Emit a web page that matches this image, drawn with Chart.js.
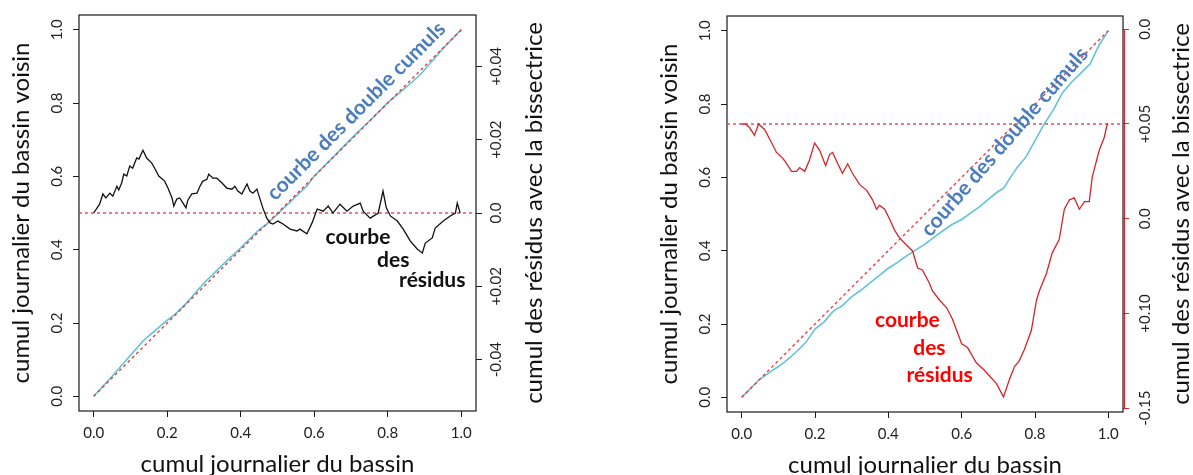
<!DOCTYPE html>
<html>
<head>
<meta charset="utf-8">
<script src="https://cdn.jsdelivr.net/npm/chart.js@4.4.1/dist/chart.umd.min.js"></script>
<style>
  html, body { margin: 0; padding: 0; background: #fff; }
  #wrap { position: relative; width: 1193px; height: 475px; }
  canvas { position: absolute; top: 0; }
  #c1 { left: 0; }
  #c2 { left: 597px; }
</style>
</head>
<body>
<div id="wrap">
  <canvas id="c1" width="597" height="475"></canvas>
  <canvas id="c2" width="596" height="475"></canvas>
</div>
<script>
// axis ticks
const xTicks = [0, 0.2, 0.4, 0.6, 0.8, 1.0];
const yTicks = [0, 0.2, 0.4, 0.6, 0.8, 1.0];
const leftResTicks = [-0.04, -0.02, 0, 0.02, 0.04];
const leftResLabels = ['-0.04', '+0.02', '0.0', '+0.02', '+0.04'];
const rightResTicks = [-0.15, -0.10, -0.05, 0, 0.05];
const rightResLabels = ['-0.15', '+0.10', '0.0', '+0.05', '0.0'];

const xTitle = 'cumul journalier du bassin';
const yTitle = 'cumul journalier du bassin voisin';
const y2Title = 'cumul des résidus avec la bissectrice';

// bisector and zero line
const bisX = [0, 1];
const bisY = [0, 1];
const zeroX = [-0.04, 1.04];
const zeroY = [0, 0];

// left panel: double cumulative curve
const cumLeftX = [0, 0.05, 0.1, 0.134, 0.15, 0.2, 0.22, 0.25, 0.3, 0.35, 0.4, 0.45, 0.47, 0.5, 0.55, 0.58, 0.6, 0.65, 0.7, 0.75, 0.8, 0.85, 0.89, 0.95, 1.0];
const cumLeftY = [0, 0.055, 0.112, 0.151, 0.165, 0.208, 0.222, 0.252, 0.309, 0.358, 0.405, 0.455, 0.469, 0.497, 0.545, 0.574, 0.601, 0.651, 0.702, 0.751, 0.801, 0.843, 0.879, 0.948, 1.0];

// left panel: cumulative residuals
const resLeftX = [0.000, 0.016, 0.025, 0.033, 0.044, 0.052, 0.063, 0.068, 0.076, 0.082, 0.090, 0.098, 0.106, 0.117, 0.123, 0.134, 0.144, 0.158, 0.166, 0.177, 0.193, 0.202, 0.213, 0.218, 0.226, 0.234, 0.243, 0.251, 0.256, 0.267, 0.281, 0.289, 0.297, 0.308, 0.313, 0.324, 0.335, 0.349, 0.362, 0.376, 0.384, 0.392, 0.403, 0.417, 0.425, 0.433, 0.444, 0.450, 0.460, 0.471, 0.480, 0.488, 0.501, 0.515, 0.534, 0.553, 0.561, 0.580, 0.594, 0.608, 0.624, 0.638, 0.651, 0.670, 0.689, 0.706, 0.725, 0.733, 0.752, 0.774, 0.787, 0.796, 0.807, 0.826, 0.842, 0.861, 0.880, 0.894, 0.902, 0.921, 0.929, 0.951, 0.970, 0.984, 0.989, 0.997];
const resLeftY = [0.0000, 0.0024, 0.0052, 0.0041, 0.0054, 0.0046, 0.0073, 0.0063, 0.0082, 0.0106, 0.0101, 0.0128, 0.0122, 0.0150, 0.0147, 0.0171, 0.0150, 0.0136, 0.0122, 0.0101, 0.0087, 0.0068, 0.0041, 0.0019, 0.0038, 0.0041, 0.0027, 0.0014, 0.0035, 0.0052, 0.0054, 0.0073, 0.0087, 0.0092, 0.0106, 0.0095, 0.0095, 0.0082, 0.0068, 0.0065, 0.0073, 0.0060, 0.0052, 0.0079, 0.0060, 0.0054, 0.0065, 0.0046, 0.0014, -0.0014, -0.0027, -0.0030, -0.0022, -0.0030, -0.0044, -0.0049, -0.0044, -0.0057, -0.0027, 0.0011, 0.0005, 0.0019, 0.0000, 0.0024, 0.0005, 0.0019, 0.0027, 0.0005, -0.0014, 0.0000, 0.0060, 0.0014, -0.0008, -0.0022, -0.0044, -0.0076, -0.0098, -0.0109, -0.0082, -0.0068, -0.0041, -0.0022, -0.0008, 0.0000, 0.0027, 0.0000];

// right panel: double cumulative curve
const cumRightX = [0, 0.05, 0.08, 0.1, 0.125, 0.15, 0.175, 0.2, 0.225, 0.25, 0.275, 0.3, 0.325, 0.35, 0.375, 0.4, 0.425, 0.45, 0.475, 0.5, 0.525, 0.55, 0.575, 0.6, 0.625, 0.65, 0.675, 0.7, 0.714, 0.73, 0.75, 0.775, 0.8, 0.825, 0.85, 0.875, 0.9, 0.925, 0.95, 0.975, 1.0];
const cumRightY = [0, 0.050, 0.071, 0.084, 0.103, 0.125, 0.150, 0.186, 0.206, 0.235, 0.250, 0.275, 0.292, 0.312, 0.332, 0.352, 0.368, 0.386, 0.402, 0.418, 0.437, 0.455, 0.472, 0.485, 0.503, 0.521, 0.542, 0.562, 0.570, 0.595, 0.625, 0.655, 0.700, 0.745, 0.784, 0.831, 0.860, 0.884, 0.909, 0.961, 1.0];

// right panel: cumulative residuals
const resRightX = [0.000, 0.011, 0.022, 0.035, 0.046, 0.063, 0.082, 0.095, 0.112, 0.123, 0.136, 0.150, 0.158, 0.172, 0.185, 0.199, 0.213, 0.229, 0.240, 0.248, 0.262, 0.275, 0.289, 0.302, 0.322, 0.341, 0.357, 0.368, 0.376, 0.390, 0.403, 0.417, 0.430, 0.450, 0.466, 0.480, 0.493, 0.512, 0.520, 0.540, 0.559, 0.575, 0.600, 0.616, 0.640, 0.662, 0.676, 0.695, 0.714, 0.730, 0.744, 0.757, 0.771, 0.790, 0.804, 0.812, 0.831, 0.847, 0.866, 0.880, 0.894, 0.907, 0.921, 0.935, 0.948, 0.956, 0.975, 0.989, 0.997, 1.000];
const resRightY = [0.000, 0.000, -0.002, -0.006, 0.000, -0.003, -0.010, -0.015, -0.018, -0.021, -0.025, -0.025, -0.023, -0.025, -0.019, -0.010, -0.014, -0.022, -0.016, -0.015, -0.021, -0.026, -0.021, -0.026, -0.032, -0.035, -0.040, -0.045, -0.043, -0.045, -0.050, -0.056, -0.060, -0.064, -0.067, -0.076, -0.077, -0.084, -0.088, -0.093, -0.097, -0.103, -0.116, -0.118, -0.126, -0.130, -0.133, -0.137, -0.144, -0.135, -0.128, -0.125, -0.119, -0.109, -0.093, -0.088, -0.079, -0.068, -0.061, -0.045, -0.040, -0.039, -0.045, -0.041, -0.041, -0.028, -0.014, -0.007, 0.000, 0.000];

const pts = (xs, ys) => xs.map((x, i) => ({ x, y: ys[i] }));

const FONT = 'Lato, "Open Sans", sans-serif';
const RED_DOT = '#e2343d';
const CYAN = '#62c3d8';

const decor = {
    id: 'decor',
    beforeDatasetsDraw(chart, args, o) {
        const { ctx, chartArea: a } = chart;
        ctx.save();
        ctx.strokeStyle = '#1a1a1a';
        ctx.lineWidth = 1.2;
        ctx.strokeRect(a.left, a.top, a.right - a.left, a.bottom - a.top);
        if (o.axisColor) {
            // R-style axis line on the right side, from first to last tick
            const s = chart.scales.y2;
            const t = s.ticks;
            ctx.strokeStyle = o.axisColor;
            ctx.beginPath();
            ctx.moveTo(a.right + 1.5, s.getPixelForValue(t[0].value));
            ctx.lineTo(a.right + 1.5, s.getPixelForValue(t[t.length - 1].value));
            ctx.stroke();
        }
        ctx.restore();
    },
    afterDraw(chart, args, o) {
        const { ctx, chartArea: a, scales } = chart;
        ctx.save();
        ctx.fillStyle = '#111';
        ctx.font = '24px ' + FONT;
        ctx.textAlign = 'center';
        ctx.textBaseline = 'middle';
        ctx.fillText(xTitle, (a.left + a.right) / 2, a.bottom + 53);
        [[a.left - 58, yTitle], [a.right + 58, y2Title]].forEach(([px, txt]) => {
            ctx.save();
            ctx.translate(px, (a.top + a.bottom) / 2);
            ctx.rotate(-Math.PI / 2);
            ctx.fillText(txt, 0, 0);
            ctx.restore();
        });
        // annotations
        o.notes.forEach(n => {
            ctx.save();
            ctx.font = 'bold 21px ' + FONT;
            ctx.fillStyle = n.color;
            ctx.translate(scales.x.getPixelForValue(n.x), scales.y.getPixelForValue(n.y));
            ctx.rotate((n.angle || 0) * Math.PI / 180);
            ctx.fillText(n.text, 0, 0);
            ctx.restore();
        });
        ctx.restore();
    },
};

function makeChart(canvasId, cfg) {
    const tickFont = { family: FONT, size: 15 };
    const fixed = (prop, val) => (s) => {
        s[prop] = val;
        s.paddingTop = s.paddingBottom = s.paddingLeft = s.paddingRight = 0;
    };
    const setTicks = (vals) => (s) => { s.ticks = vals.map(v => ({ value: v })); };

    return new Chart(document.getElementById(canvasId), {
        type: 'scatter',
        data: { datasets: cfg.datasets },
        plugins: [decor],
        options: {
            responsive: false,
            animation: false,
            layout: { padding: { top: cfg.top, left: 0, right: 0, bottom: 0 } },
            elements: { point: { radius: 0 } },
            scales: {
                x: {
                    type: 'linear',
                    min: -0.04, max: 1.04,
                    afterBuildTicks: setTicks(xTicks),
                    afterFit: fixed('height', cfg.xHeight),
                    grid: { drawOnChartArea: false, tickLength: 6, color: '#1a1a1a', lineWidth: 1 },
                    border: { display: false },
                    ticks: {
                        autoSkip: false, maxRotation: 0, padding: 7,
                        font: tickFont, color: '#222',
                        callback: (v) => v.toFixed(1),
                    },
                },
                y: {
                    type: 'linear',
                    position: 'left',
                    min: -0.04, max: 1.04,
                    afterBuildTicks: setTicks(yTicks),
                    afterFit: fixed('width', cfg.yWidth),
                    grid: { drawOnChartArea: false, tickLength: 6, color: '#1a1a1a', lineWidth: 1 },
                    border: { display: false },
                    ticks: {
                        autoSkip: false, minRotation: 90, maxRotation: 90, crossAlign: 'center', padding: 5,
                        font: tickFont, color: '#222',
                        callback: (v) => v.toFixed(1),
                    },
                },
                y2: {
                    type: 'linear',
                    position: 'right',
                    min: cfg.resMin, max: cfg.resMax,
                    afterBuildTicks: setTicks(cfg.resTicks),
                    afterFit: fixed('width', cfg.y2Width),
                    grid: { drawOnChartArea: false, tickLength: 6, color: cfg.axisColor, lineWidth: 1 },
                    border: { display: false },
                    ticks: {
                        autoSkip: false, minRotation: 90, maxRotation: 90, crossAlign: 'center', padding: cfg.y2Pad,
                        font: tickFont, color: '#222',
                        callback: (v, i) => cfg.resLabels[i],
                    },
                },
            },
            plugins: {
                legend: { display: false },
                tooltip: { enabled: false },
                decor: { notes: cfg.notes, axisColor: cfg.axisLine },
            },
        },
    });
}

// left chart
makeChart('c1', {
    top: 15, xHeight: 64, yWidth: 79, y2Width: 121, y2Pad: -5,
    resMin: -0.054, resMax: 0.054,
    resTicks: leftResTicks, resLabels: leftResLabels,
    axisColor: '#1a1a1a', axisLine: null,
    datasets: [
        { data: pts(resLeftX, resLeftY), yAxisID: 'y2', showLine: true, borderColor: '#111', borderWidth: 1.3 },
        { data: pts(bisX, bisY), showLine: true, borderColor: RED_DOT, borderWidth: 1.3, borderDash: [3, 3] },
        { data: pts(zeroX, zeroY), yAxisID: 'y2', showLine: true, borderColor: RED_DOT, borderWidth: 1.3, borderDash: [3, 3] },
        { data: pts(cumLeftX, cumLeftY), showLine: true, borderColor: CYAN, borderWidth: 1.6 },
    ],
    notes: [
        { text: 'courbe des double cumuls', x: 0.714, y: 0.778, angle: -45, color: '#4a7dbf' },
        { text: 'courbe', x: 0.719, y: 0.434, color: '#111' },
        { text: 'des', x: 0.815, y: 0.371, color: '#111' },
        { text: 'résidus', x: 0.921, y: 0.317, color: '#111' },
    ],
});

// right chart
makeChart('c2', {
    top: 16, xHeight: 63, yWidth: 130, y2Width: 70, y2Pad: -3,
    resMin: -0.152, resMax: 0.057,
    resTicks: rightResTicks, resLabels: rightResLabels,
    axisColor: '#d42a2f', axisLine: '#d42a2f',
    datasets: [
        { data: pts(resRightX, resRightY), yAxisID: 'y2', showLine: true, borderColor: '#d8232a', borderWidth: 1.3 },
        { data: pts(bisX, bisY), showLine: true, borderColor: RED_DOT, borderWidth: 1.3, borderDash: [3, 3] },
        { data: pts(zeroX, zeroY), yAxisID: 'y2', showLine: true, borderColor: RED_DOT, borderWidth: 1.3, borderDash: [3, 3] },
        { data: pts(cumRightX, cumRightY), showLine: true, borderColor: CYAN, borderWidth: 1.6 },
    ],
    notes: [
        { text: 'courbe des double cumuls', x: 0.717, y: 0.697, angle: -49, color: '#4a7dbf' },
        { text: 'courbe', x: 0.452, y: 0.209, color: '#ff0000' },
        { text: 'des', x: 0.512, y: 0.133, color: '#ff0000' },
        { text: 'résidus', x: 0.540, y: 0.060, color: '#ff0000' },
    ],
});
</script>
</body>
</html>
